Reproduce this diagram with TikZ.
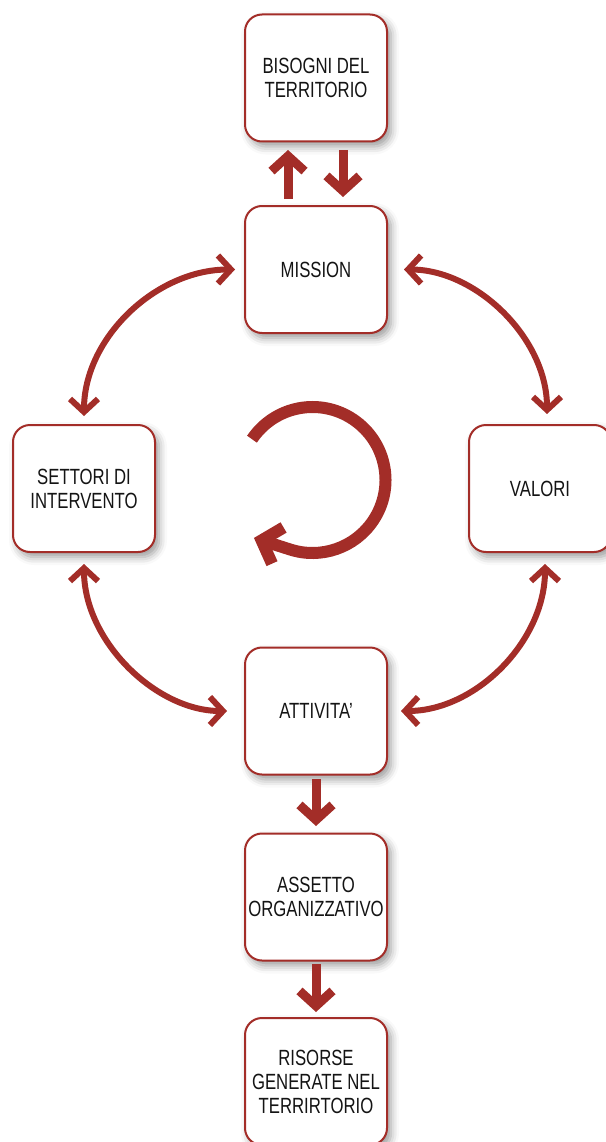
\documentclass[tikz,border=0pt]{standalone}
\usepackage{fontspec}
\setmainfont{Liberation Sans}[FakeStretch=0.76]
\usetikzlibrary{arrows.meta,shadows.blur}
\definecolor{myred}{RGB}{163,45,40}
\definecolor{textgray}{RGB}{20,20,20}
\tikzset{
  box/.style={draw=myred, line width=2pt, fill=white, rounded corners=17pt,
    minimum width=142pt, minimum height=127pt, inner sep=0pt, align=center,
    font=\fontsize{22}{24}\selectfont, text=textgray,
    blur shadow={shadow xshift=4pt, shadow yshift=-5pt, shadow blur radius=8pt, shadow opacity=40}},
  blockarrow/.style={draw=myred, line width=9pt,
    -{Straight Barb[sharp, length=15pt, width=33pt]}},
  curvearrow/.style={draw=myred, line width=6pt,
    {Straight Barb[sharp, length=13pt, width=28pt]}-{Straight Barb[sharp, length=13pt, width=28pt]}},
  cyclearrow/.style={draw=myred, line width=12pt,
    -{Straight Barb[sharp, length=17pt, width=38pt]}}
}
\begin{document}
\begin{tikzpicture}[x=1pt, y=-1pt]
\useasboundingbox (0,0) rectangle (605,1142);
\node[box] (bis) at (316,78) {BISOGNI DEL\\TERRITORIO};
\node[box] (mis) at (316,269.5) {MISSION};
\node[box] (set) at (84,488.5) {SETTORI DI\\INTERVENTO};
\node[box] (val) at (540,488.5) {VALORI};
\node[box] (att) at (316,711) {ATTIVITA'};
\node[box] (ass) at (316,897) {ASSETTO\\ORGANIZZATIVO};
\node[box] (ris) at (316,1081.5) {RISORSE\\GENERATE NEL\\TERRIRTORIO};

% vertical block arrows
\draw[blockarrow, shorten <=6pt, shorten >=7.5pt] ([xshift=-28pt]mis.north) -- ([xshift=-28pt]bis.south);
\draw[blockarrow, shorten <=7.5pt, shorten >=8pt] ([xshift=27pt]bis.south) -- ([xshift=27pt]mis.north);
\draw[blockarrow, shorten <=3.5pt, shorten >=6.5pt] (att.south) -- (ass.north);
\draw[blockarrow, shorten <=2.5pt, shorten >=5pt] (ass.south) -- (ris.north);

% curved double arrows
\draw[curvearrow, shorten <=9pt, shorten >=8pt] (mis.west) .. controls +(-88,0) and +(0,-86) .. (set.north);
\draw[curvearrow, shorten <=16pt, shorten >=10pt] (mis.east) .. controls +(88,0) and +(0,-86) .. ([xshift=7pt]val.north);
\draw[curvearrow, shorten <=11pt, shorten >=17pt] (set.south) .. controls +(0,88) and +(-88,0) .. (att.west);
\draw[curvearrow, shorten <=11pt, shorten >=13pt] ([xshift=5pt]val.south) .. controls +(0,88) and +(88,0) .. (att.east);

% central cycle arrow
\coordinate (cc) at (312.5,480);
\draw[cyclearrow] ([shift={(-146:73)}]cc) arc[start angle=-146, end angle=108, radius=73] -- ++(-36,-11.5);
\end{tikzpicture}
\end{document}
